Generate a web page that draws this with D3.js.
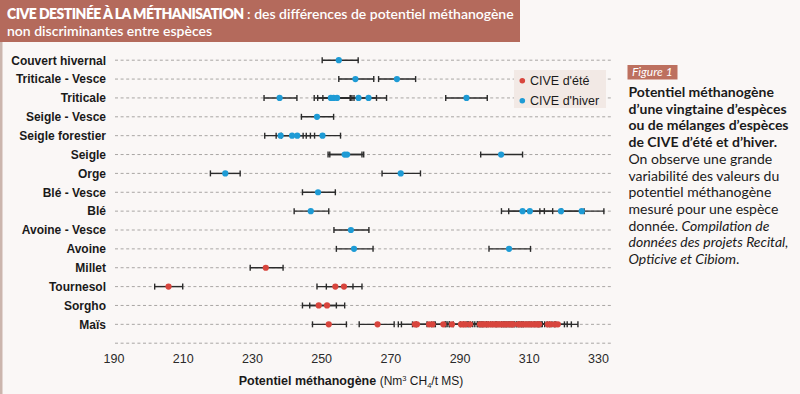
<!DOCTYPE html>
<html>
<head>
<meta charset="utf-8">
<script src="https://cdn.jsdelivr.net/npm/d3@7"></script>
<style>
body { margin: 0; background: #faf7f6; }
svg { display: block; }
</style>
</head>
<body>
<svg id="chart" width="800" height="394"></svg>
<script>
// species, top to bottom
var categories = ["Couvert hivernal", "Triticale - Vesce", "Triticale", "Seigle - Vesce",
  "Seigle forestier", "Seigle", "Orge", "Blé - Vesce", "Blé", "Avoine - Vesce",
  "Avoine", "Millet", "Tournesol", "Sorgho", "Maïs"];

// [species, mean, low, high]  -- CIVE d'hiver
var hiverPoints = [
  ["Couvert hivernal", 255.1, 250.3, 260.7],
  ["Triticale - Vesce", 259.9, 255.1, 265.2],
  ["Triticale - Vesce", 271.9, 266.6, 277.3],
  ["Triticale", 238.0, 233.5, 243.0],
  ["Triticale", 252.8, 248.0, 258.4],
  ["Triticale", 253.6, 249.0, 258.9],
  ["Triticale", 254.6, 250.5, 259.5],
  ["Triticale", 260.8, 254.5, 266.0],
  ["Triticale", 263.7, 258.5, 268.9],
  ["Triticale", 292.0, 286.0, 298.0],
  ["Seigle - Vesce", 248.8, 244.3, 253.6],
  ["Seigle forestier", 238.3, 233.7, 244.8],
  ["Seigle forestier", 241.6, 237.0, 246.9],
  ["Seigle forestier", 243.1, 238.5, 248.1],
  ["Seigle forestier", 250.4, 245.7, 255.6],
  ["Seigle", 256.8, 252.0, 261.8],
  ["Seigle", 257.5, 252.5, 262.3],
  ["Seigle", 302.0, 296.1, 308.2],
  ["Orge", 222.3, 218.0, 226.6],
  ["Orge", 273.0, 267.6, 278.7],
  ["Blé - Vesce", 249.1, 244.6, 254.1],
  ["Blé", 247.0, 242.2, 252.2],
  ["Blé", 308.2, 302.1, 314.5],
  ["Blé", 310.3, 304.2, 316.9],
  ["Blé", 319.3, 313.2, 326.0],
  ["Blé", 325.3, 319.5, 331.7],
  ["Avoine - Vesce", 258.6, 253.7, 263.8],
  ["Avoine", 259.5, 254.4, 265.0],
  ["Avoine", 304.3, 298.5, 310.5]
];

// [species, mean, low, high]  -- CIVE d'été
var etePoints = [
  ["Millet", 234.0, 229.5, 239.0],
  ["Tournesol", 205.9, 201.9, 210.0],
  ["Tournesol", 254.1, 248.8, 259.2],
  ["Tournesol", 256.6, 251.5, 261.8],
  ["Sorgho", 249.3, 244.6, 254.4],
  ["Sorgho", 251.7, 246.7, 256.8],
  ["Maïs", 252.2, 247.5, 257.3],
  ["Maïs", 266.3, 261.0, 271.1],
  ["Maïs", 277.1, 272.3, 281.9],
  ["Maïs", 277.7, 273.2, 282.6],
  ["Maïs", 281.2, 276.4, 286.0],
  ["Maïs", 282.2, 277.5, 287.1],
  ["Maïs", 285.3, 280.6, 290.2],
  ["Maïs", 287.8, 283.0, 292.5],
  ["Maïs", 290.4, 285.8, 295.3],
  ["Maïs", 291.0, 286.4, 296.0],
  ["Maïs", 291.7, 287.0, 296.6],
  ["Maïs", 293.0, 288.2, 297.8],
  ["Maïs", 295.9, 291.2, 300.6],
  ["Maïs", 296.6, 291.9, 301.4],
  ["Maïs", 297.2, 292.4, 302.1],
  ["Maïs", 297.9, 293.1, 302.7],
  ["Maïs", 298.5, 293.8, 303.3],
  ["Maïs", 299.2, 294.4, 304.0],
  ["Maïs", 299.8, 295.1, 304.6],
  ["Maïs", 300.5, 295.7, 305.3],
  ["Maïs", 301.1, 296.4, 305.9],
  ["Maïs", 301.8, 297.0, 306.6],
  ["Maïs", 302.4, 297.7, 307.2],
  ["Maïs", 303.1, 298.3, 307.9],
  ["Maïs", 303.7, 299.0, 308.5],
  ["Maïs", 304.4, 299.6, 309.2],
  ["Maïs", 305.0, 300.3, 309.8],
  ["Maïs", 305.5, 300.8, 310.3],
  ["Maïs", 307.0, 302.2, 311.8],
  ["Maïs", 307.7, 302.9, 312.4],
  ["Maïs", 308.4, 303.6, 313.2],
  ["Maïs", 309.1, 304.3, 313.9],
  ["Maïs", 309.8, 305.0, 314.6],
  ["Maïs", 310.5, 305.7, 315.3],
  ["Maïs", 311.2, 306.4, 316.0],
  ["Maïs", 311.9, 307.1, 316.7],
  ["Maïs", 312.6, 307.8, 317.4],
  ["Maïs", 313.0, 308.3, 317.8],
  ["Maïs", 315.5, 310.8, 320.3],
  ["Maïs", 316.3, 311.5, 321.1],
  ["Maïs", 317.5, 312.8, 322.3],
  ["Maïs", 318.4, 313.6, 324.2]
];

var xTicks = [190, 210, 230, 250, 270, 290, 310, 330];

var colEte = "#d8453d", colHiver = "#1e9bd5";

var svg = d3.select("#chart");

// page background + left border
svg.append("rect").attr("width", 800).attr("height", 394).attr("fill", "#faf7f6");
svg.append("rect").attr("x", 0).attr("y", 42).attr("width", 2.5).attr("height", 352).attr("fill", "#cbb5ad");

// title band
var titleFont = "Lato, 'Noto Sans', sans-serif";
svg.append("rect").attr("x", 0).attr("y", 0).attr("width", 520).attr("height", 42).attr("fill", "#b46a5c");
var t1 = svg.append("text").attr("x", 7).attr("y", 18.5)
  .attr("font-family", titleFont).attr("font-size", 14).attr("fill", "#fff");
t1.append("tspan").attr("font-weight", 800).attr("letter-spacing", -0.55)
  .text("CIVE DESTINÉE À LA MÉTHANISATION");
t1.append("tspan").attr("font-weight", 600)
  .text(" : des différences de potentiel méthanogène");
svg.append("text").attr("x", 7).attr("y", 35.5)
  .attr("font-family", titleFont).attr("font-size", 14).attr("font-weight", 600).attr("fill", "#fff")
  .text("non discriminantes entre espèces");

// scales
var x = d3.scaleLinear().domain([190, 330]).range([113.5, 598]);
var y = d3.scalePoint().domain(categories.concat([""])).range([60.2, 343.2]);

var g = svg.append("g");

// dashed row guides (one extra empty row under Maïs)
g.selectAll(".guide").data(y.domain()).enter().append("line")
  .attr("class", "guide")
  .attr("x1", 115).attr("x2", 612)
  .attr("y1", function(d) { return y(d); })
  .attr("y2", function(d) { return y(d); })
  .attr("stroke", "#a9a6a4").attr("stroke-width", 1)
  .attr("stroke-dasharray", "3,2.6");

// row labels
g.selectAll(".lab").data(categories).enter().append("text")
  .attr("x", 106).attr("y", function(d) { return y(d) + 4.3; })
  .attr("text-anchor", "end")
  .attr("font-family", "'Liberation Sans', Arial, sans-serif")
  .attr("font-size", 12).attr("font-weight", 700).attr("fill", "#1a1a1a")
  .text(function(d) { return d; });

// x axis (labels only)
var xAxis = svg.append("g").attr("transform", "translate(0,354)")
  .call(d3.axisBottom(x).tickValues(xTicks).tickSize(0).tickPadding(0));
xAxis.select(".domain").remove();
xAxis.selectAll("text")
  .attr("font-family", "'Liberation Sans', Arial, sans-serif")
  .attr("font-size", 12.5).attr("fill", "#2a2a2a");

var xt = svg.append("text").attr("x", 351).attr("y", 385).attr("text-anchor", "middle")
  .attr("font-family", "'Liberation Sans', Arial, sans-serif").attr("fill", "#1a1a1a");
xt.append("tspan").attr("font-size", 12.5).attr("font-weight", 700).text("Potentiel méthanogène ");
xt.append("tspan").attr("font-size", 12).text("(Nm");
xt.append("tspan").attr("font-size", 7.5).attr("dy", -4).text("3");
xt.append("tspan").attr("font-size", 12).attr("dy", 4).text(" CH");
xt.append("tspan").attr("font-size", 7.5).attr("dy", 3).text("4");
xt.append("tspan").attr("font-size", 12).attr("dy", -3).text("/t MS)");

// error bars then dots
var allPoints = hiverPoints.map(function(d) { return { cat: d[0], v: d[1], lo: d[2], hi: d[3], c: colHiver }; })
  .concat(etePoints.map(function(d) { return { cat: d[0], v: d[1], lo: d[2], hi: d[3], c: colEte }; }));

var bars = g.append("g").attr("stroke", "#2b2b2b").attr("stroke-width", 1.4);
allPoints.forEach(function(d) {
  var yy = y(d.cat);
  bars.append("line").attr("x1", x(d.lo)).attr("x2", x(d.hi)).attr("y1", yy).attr("y2", yy);
  bars.append("line").attr("x1", x(d.lo)).attr("x2", x(d.lo)).attr("y1", yy - 3).attr("y2", yy + 3);
  bars.append("line").attr("x1", x(d.hi)).attr("x2", x(d.hi)).attr("y1", yy - 3).attr("y2", yy + 3);
});

g.selectAll(".dot").data(allPoints).enter().append("circle")
  .attr("cx", function(d) { return x(d.v); })
  .attr("cy", function(d) { return y(d.cat); })
  .attr("r", 3.1)
  .attr("fill", function(d) { return d.c; });

// legend
var leg = svg.append("g");
leg.append("rect").attr("x", 514).attr("y", 70).attr("width", 92).attr("height", 38).attr("fill", "#f2e9e5");
[["CIVE d'été", colEte, 80.7], ["CIVE d'hiver", colHiver, 100.7]].forEach(function(d) {
  leg.append("circle").attr("cx", 522.3).attr("cy", d[2]).attr("r", 2.8).attr("fill", d[1]);
  leg.append("text").attr("x", 530).attr("y", d[2] + 4.5)
    .attr("font-family", "'Liberation Sans', Arial, sans-serif")
    .attr("font-size", 12.5).attr("fill", "#1a1a1a").text(d[0]);
});

// side caption
svg.append("rect").attr("x", 627.5).attr("y", 65).attr("width", 50).attr("height", 14.5).attr("fill", "#bd705f");
svg.append("text").attr("x", 632).attr("y", 76)
  .attr("font-family", titleFont).attr("font-size", 12)
  .attr("font-style", "italic").attr("fill", "#fff").text("Figure 1");

var captionLines = [
  [["Potentiel méthanogène", "b"]],
  [["d’une vingtaine d’espèces", "b"]],
  [["ou de mélanges d’espèces", "b"]],
  [["de CIVE d’été et d’hiver.", "b"]],
  [["On observe une grande", "r"]],
  [["variabilité des valeurs du", "r"]],
  [["potentiel méthanogène", "r"]],
  [["mesuré pour une espèce", "r"]],
  [["donnée. ", "r"], ["Compilation de", "i"]],
  [["données des projets Recital,", "i"]],
  [["Opticive et Cibiom", "i"], [".", "r"]]
];
var cap = svg.append("text")
  .attr("font-family", titleFont).attr("font-size", 14).attr("fill", "#1a1a1a");
captionLines.forEach(function(line, i) {
  line.forEach(function(seg, j) {
    var ts = cap.append("tspan").text(seg[0]);
    if (j === 0) ts.attr("x", 628.5).attr("y", 97 + i * 16.7);
    if (seg[1] === "b") ts.attr("font-weight", 700);
    if (seg[1] === "i") ts.attr("font-style", "italic");
  });
});
</script>
</body>
</html>
